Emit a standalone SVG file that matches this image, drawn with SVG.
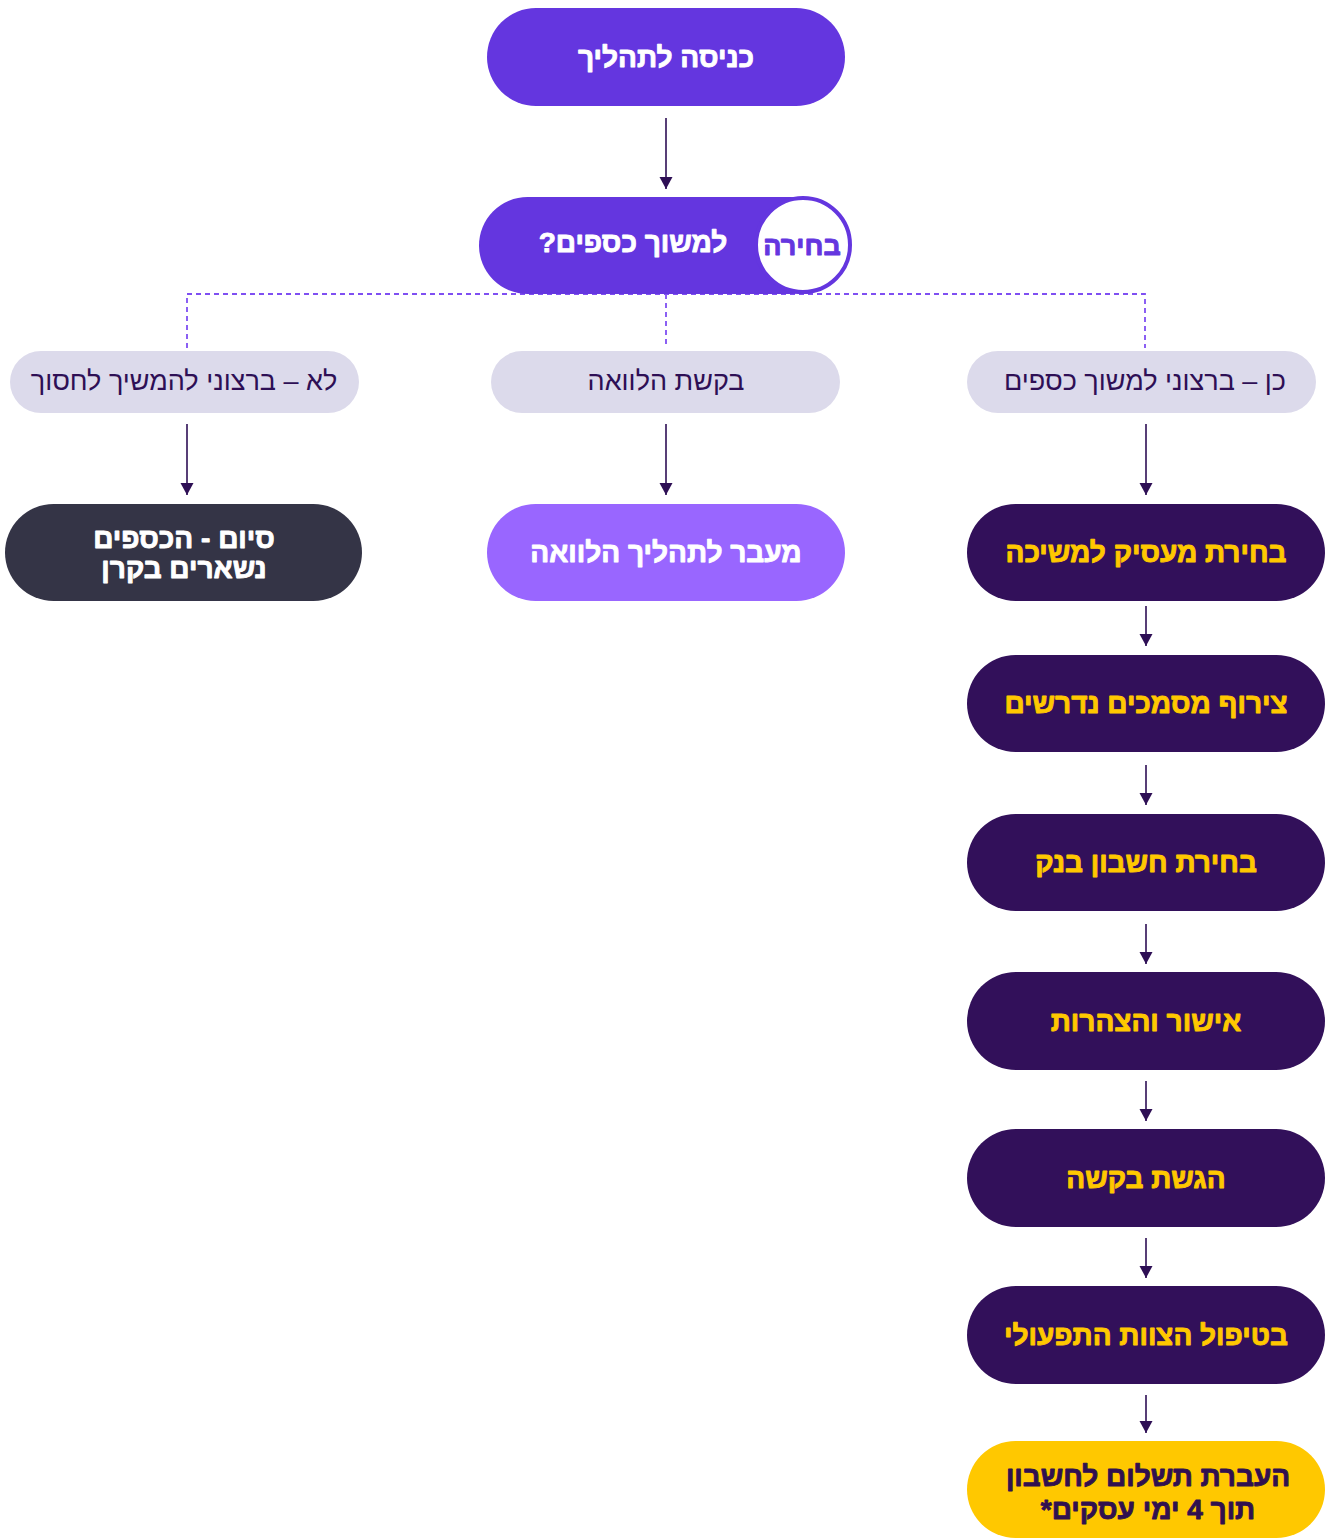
<svg xmlns="http://www.w3.org/2000/svg" width="1333" height="1540" viewBox="0 0 1333 1540">
<defs>
<marker id="ah" viewBox="0 0 12 14" refX="12" refY="7" markerWidth="12" markerHeight="14" markerUnits="userSpaceOnUse" orient="auto">
<path d="M0,0.5 L12,7 L0,13.5 z" fill="#2e0f55"/>
</marker>
<style>
text{font-family:"Liberation Sans","DejaVu Sans",sans-serif;text-anchor:middle;direction:rtl;unicode-bidi:embed;dominant-baseline:central}
.b{font-weight:bold;font-size:28px;stroke-width:0.9px;stroke-linejoin:round}
.l{font-size:27px;fill:#2e0f55}
.w{fill:#ffffff;stroke:#ffffff}
.y{fill:#ffc800;stroke:#ffc800}
.d{fill:#31104f;stroke:#31104f}
.p{fill:#6436df;stroke:#6436df}
.arr{stroke:#2e0f55;stroke-width:1.6;fill:none;marker-end:url(#ah)}
.dash{stroke:#7f4ff2;stroke-width:1.8;fill:none;stroke-dasharray:5 4}
.lab{fill:#dcdaeb}
.step{fill:#32105a}
</style>
</defs>
<rect width="1333" height="1540" fill="#ffffff"/>
<g id="connectors">
<line class="arr" x1="666" y1="118" x2="666" y2="189"/>
<path class="dash" d="M187,348 V294 H1145 V348 M666,294 V348"/>
<line class="arr" x1="187" y1="424" x2="187" y2="495"/>
<line class="arr" x1="666" y1="424" x2="666" y2="495"/>
<line class="arr" x1="1146" y1="424" x2="1146" y2="495"/>
<line class="arr" x1="1146" y1="606" x2="1146" y2="646"/>
<line class="arr" x1="1146" y1="765" x2="1146" y2="805"/>
<line class="arr" x1="1146" y1="924" x2="1146" y2="964"/>
<line class="arr" x1="1146" y1="1081" x2="1146" y2="1121"/>
<line class="arr" x1="1146" y1="1238" x2="1146" y2="1278"/>
<line class="arr" x1="1146" y1="1395" x2="1146" y2="1433"/>
</g>
<g id="n-start">
<rect x="487" y="8" width="358" height="98" rx="49" fill="#6436df"/>
<text class="b w" x="666" y="57">כניסה לתהליך</text>
</g>
<g id="n-choice">
<rect x="479" y="197" width="360" height="97" rx="48.5" fill="#6436df"/>
<circle cx="803" cy="245" r="47" fill="#ffffff" stroke="#6436df" stroke-width="4"/>
<text class="b p" x="802" y="246" style="font-size:27px">בחירה</text>
<text class="b w" x="633" y="242">למשוך כספים?</text>
</g>
<g id="n-no">
<rect class="lab" x="10" y="351" width="349" height="62" rx="31"/>
<text class="l" x="184" y="381">לא – ברצוני להמשיך לחסוך</text>
</g>
<g id="n-loan">
<rect class="lab" x="491" y="351" width="349" height="62" rx="31"/>
<text class="l" x="666" y="381">בקשת הלוואה</text>
</g>
<g id="n-yes">
<rect class="lab" x="967" y="351" width="349" height="62" rx="31"/>
<text class="l" x="1145" y="381">כן – ברצוני למשוך כספים</text>
</g>
<g id="n-end">
<rect x="5" y="504" width="357" height="97" rx="48.5" fill="#343446"/>
<text class="b w" x="184" y="538">סיום - הכספים</text>
<text class="b w" x="184" y="568">נשארים בקרן</text>
</g>
<g id="n-loanproc">
<rect x="487" y="504" width="358" height="97" rx="48.5" fill="#9966ff"/>
<text class="b w" x="666" y="552">מעבר לתהליך הלוואה</text>
</g>
<g id="n-s1">
<rect class="step" x="967" y="504" width="358" height="97" rx="48.5"/>
<text class="b y" x="1146" y="552">בחירת מעסיק למשיכה</text>
</g>
<g id="n-s2">
<rect class="step" x="967" y="655" width="358" height="97" rx="48.5"/>
<text class="b y" x="1146" y="703">צירוף מסמכים נדרשים</text>
</g>
<g id="n-s3">
<rect class="step" x="967" y="814" width="358" height="97" rx="48.5"/>
<text class="b y" x="1146" y="862">בחירת חשבון בנק</text>
</g>
<g id="n-s4">
<rect class="step" x="967" y="972" width="358" height="98" rx="49"/>
<text class="b y" x="1146" y="1021">אישור והצהרות</text>
</g>
<g id="n-s5">
<rect class="step" x="967" y="1129" width="358" height="98" rx="49"/>
<text class="b y" x="1146" y="1178">הגשת בקשה</text>
</g>
<g id="n-s6">
<rect class="step" x="967" y="1286" width="358" height="98" rx="49"/>
<text class="b y" x="1146" y="1335">בטיפול הצוות התפעולי</text>
</g>
<g id="n-s7">
<rect x="967" y="1441" width="358" height="97" rx="48.5" fill="#ffc800"/>
<text class="b d" x="1148" y="1476">העברת תשלום לחשבון</text>
<text class="b d" x="1148" y="1509">תוך 4 ימי עסקים*</text>
</g>
</svg>
